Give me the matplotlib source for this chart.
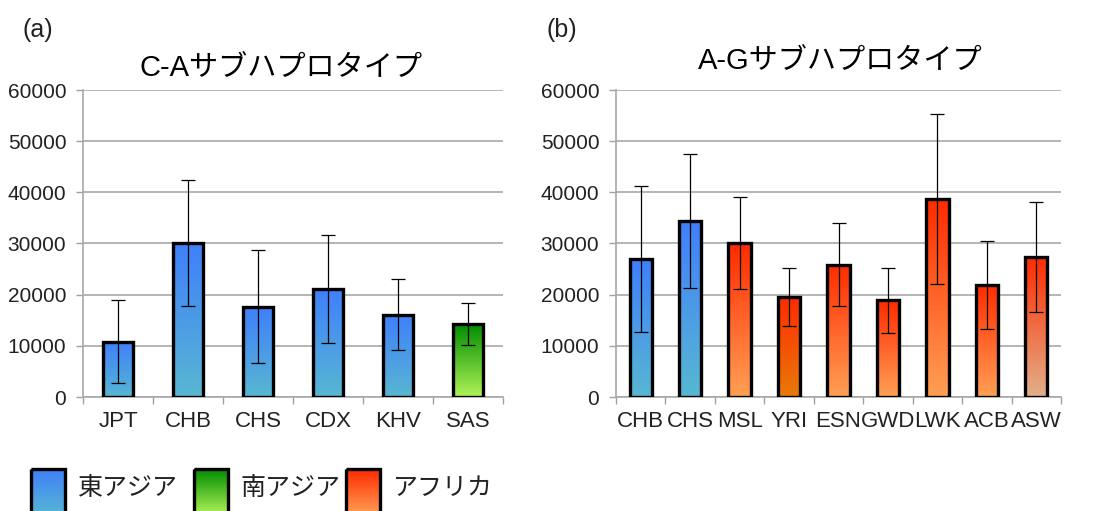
import numpy as np
import matplotlib
matplotlib.use("Agg")
import matplotlib.pyplot as plt
from matplotlib.colors import LinearSegmentedColormap
from matplotlib.patches import Rectangle

plt.rcParams['font.family'] = ['Liberation Sans', 'Noto Sans CJK JP', 'DejaVu Sans']

# ---- data ----
cats_a = ["JPT", "CHB", "CHS", "CDX", "KHV", "SAS"]
vals_a = [10800, 30100, 17650, 21150, 16100, 14200]
errs_a = [8100, 12400, 11100, 10600, 6900, 4100]
groups_a = ["east", "east", "east", "east", "east", "south"]

cats_b = ["CHB", "CHS", "MSL", "YRI", "ESN", "GWD", "LWK", "ACB", "ASW"]
vals_b = [26950, 34400, 30100, 19550, 25850, 18950, 38650, 21900, 27400]
errs_b = [14300, 13050, 8900, 5700, 8150, 6350, 16600, 8550, 10800]
groups_b = ["east", "east", "africa", "africa_yri", "africa", "africa", "africa", "africa", "africa_asw"]

title_a = "C-Aサブハプロタイプ"
title_b = "A-Gサブハプロタイプ"
legend_labels = ["東アジア", "南アジア", "アフリカ"]
yticks = [0, 10000, 20000, 30000, 40000, 50000, 60000]

# gradient colours (top, bottom)
grad = {
    "east": ("#3f7ffb", "#58b7d2"),
    "south": ("#008c00", "#b0f458"),
    "africa": ("#ff2a00", "#ffa055"),
    "africa_yri": ("#ff2a00", "#e97a0a"),
    "africa_asw": ("#ff2a00", "#e2b08a"),
}

W, H = 1117, 511
fig = plt.figure(figsize=(W / 100, H / 100), dpi=100)


def fill_gradient(ax, patch, top, bottom):
    cmap = LinearSegmentedColormap.from_list("g", [bottom, top])
    x0, y0 = patch.get_x(), patch.get_y()
    w, h = patch.get_width(), patch.get_height()
    img = ax.imshow(np.linspace(0, 1, 256).reshape(-1, 1), cmap=cmap, origin="lower",
                    extent=[x0, x0 + w, y0, y0 + h], aspect="auto", zorder=2,
                    interpolation="bicubic")
    img.set_clip_path(patch)


def panel(rect, cats, vals, errs, groups, width):
    ax = fig.add_axes(rect)
    x = np.arange(len(cats))
    bars = ax.bar(x, vals, width=width, facecolor="none", edgecolor="black",
                  linewidth=2.4, zorder=3)
    for b, g in zip(bars, groups):
        fill_gradient(ax, b, *grad[g])
    ax.errorbar(x, vals, yerr=errs, fmt="none", ecolor="black", elinewidth=0.9,
                capsize=5, capthick=0.9, zorder=4)
    ax.set_xlim(-0.5, len(cats) - 0.5)
    ax.set_ylim(0, 60000)
    ax.set_yticks(yticks)
    ax.set_yticklabels([str(v) for v in yticks], fontsize=15, color="#222222")
    ax.set_xticks(x)
    ax.set_xticklabels(cats, fontsize=16, color="#222222")
    ax.set_xticks(np.arange(-0.5, len(cats)), minor=True)
    ax.tick_params(axis="x", which="major", length=0, pad=10)
    ax.tick_params(axis="x", which="minor", length=5, color="#a0a0a0", width=1)
    ax.tick_params(axis="y", length=5, color="#a0a0a0", width=1, pad=7)
    ax.yaxis.grid(True, color="#a8a8a8", linewidth=1.2, zorder=0)
    ax.set_axisbelow(True)
    for s in ["top", "right"]:
        ax.spines[s].set_visible(False)
    for s in ["left", "bottom"]:
        ax.spines[s].set_color("#a8a8a8")
        ax.spines[s].set_linewidth(1.2)
    return ax


ax_a = panel([83 / W, 1 - 397 / H, 420 / W, 307 / H], cats_a, vals_a, errs_a, groups_a, 0.42)
ax_b = panel([616 / W, 1 - 397 / H, 445 / W, 307 / H], cats_b, vals_b, errs_b, groups_b, 0.45)

fig.text(281 / W, 1 - 68 / H, title_a, fontsize=21, ha="center", va="center")
fig.text(840 / W, 1 - 61 / H, title_b, fontsize=21, ha="center", va="center")
fig.text(22 / W, 1 - 30 / H, "(a)", fontsize=18, ha="left", va="center", color="#222222")
fig.text(547 / W, 1 - 30 / H, "(b)", fontsize=18, ha="left", va="center", color="#222222")

# legend (pixel coordinates in a strip at the bottom of the figure)
lax = fig.add_axes([0, 0, 1, 50 / H])
lax.axis("off")
leg_items = [(31, 78, "east"), (194, 240, "south"), (346, 393, "africa")]
for (bx, tx, g), lab in zip(leg_items, legend_labels):
    r = Rectangle((bx, 8), 34, 46, facecolor="none", edgecolor="black", linewidth=2.4,
                  zorder=3, clip_on=False)
    lax.add_patch(r)
    top, bottom = grad[g]
    cmap = LinearSegmentedColormap.from_list("g", [top, bottom])
    img = lax.imshow(np.linspace(0, 1, 256).reshape(-1, 1), cmap=cmap, origin="upper",
                     extent=[bx, bx + 34, 54, 8], aspect="auto", zorder=2)
    img.set_clip_path(r)
    lax.text(tx, 27, lab, fontsize=18, ha="left", va="center", color="#222222",
             family=['Noto Sans CJK JP', 'DejaVu Sans'])
lax.set_xlim(0, W)
lax.set_ylim(50, 0)

fig.savefig("out.png", dpi=100)
